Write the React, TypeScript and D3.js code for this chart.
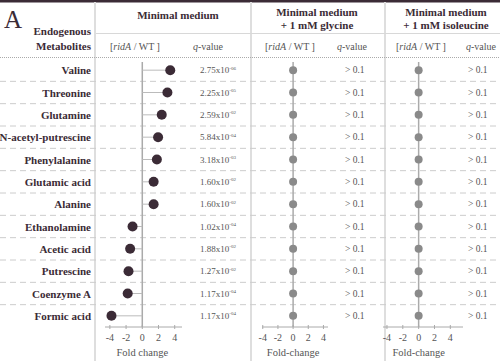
import React from "react";
import * as d3 from "d3";

const metabolites = [
  "Valine", "Threonine", "Glutamine", "N-acetyl-putrescine", "Phenylalanine",
  "Glutamic acid", "Alanine", "Ethanolamine", "Acetic acid", "Putrescine",
  "Coenzyme A", "Formic acid",
];
const foldMinimal = [3.45, 3.1, 2.4, 1.95, 1.8, 1.4, 1.4, -1.2, -1.5, -1.7, -1.8, -3.8];
const qMantissa = ["2.75", "2.25", "2.59", "5.84", "3.18", "1.60", "1.60", "1.02", "1.88", "1.27", "1.17", "1.17"];
const qExponent = ["-06", "-05", "-02", "-04", "-03", "-02", "-02", "-04", "-02", "-02", "-04", "-04"];
const foldGlycine = [0, 0, 0, 0, 0, 0, 0, 0, 0, 0, 0, 0];
const foldIsoleucine = [0, 0, 0, 0, 0, 0, 0, 0, 0, 0, 0, 0];
const qOther = ">\u00a00.1";
const ticks = [-4, -2, 0, 2, 4];

const FONT = "'Liberation Serif', 'Times New Roman', serif";
const DARK = "#3b2b36";
const GRAY_TXT = "#555";

export default function App() {
  const W = 500, H = 361;
  const y = d3.scaleBand<string>().domain(metabolites).range([59, 327]).paddingInner(0);
  const cy = (m: string) => (y(m) as number) + y.bandwidth() / 2;

  const panels = [
    { x: d3.scaleLinear().domain([-4.6, 4.9]).range([105, 182]), data: foldMinimal, dark: true, qx: 200, axisLabel: "Fold change" },
    { x: d3.scaleLinear().domain([-4.1, 4.6]).range([262, 328]), data: foldGlycine, dark: false, qx: 345, axisLabel: "Fold-change" },
    { x: d3.scaleLinear().domain([-4.5, 5.6]).range([383, 463]), data: foldIsoleucine, dark: false, qx: 468, axisLabel: "Fold-change" },
  ];
  const axisY = 327;

  const seps = metabolites.slice(1).map((m) => y(m) as number);

  return (
    <svg width={W} height={H} style={{ position: "absolute", left: 0, top: 0, background: "#fff" }} fontFamily={FONT}>
      <rect x={0} y={0} width={W} height={2.5} fill={DARK} />
      {[95, 251, 385].map((x) => (
        <rect key={x} x={x - 1} y={2} width={2} height={H - 2} fill="#dedede" />
      ))}
      <line x1={96} x2={W} y1={33.5} y2={33.5} stroke="#d8d8d8" strokeWidth={1} />
      <line x1={0} x2={W} y1={57.5} y2={57.5} stroke="#aaa" strokeWidth={1} strokeDasharray="1,1" />
      {seps.map((s, i) => (
        <line key={i} x1={0} x2={W} y1={s} y2={s} stroke="#ccc" strokeWidth={1} strokeDasharray="6,4" />
      ))}

      <text x={4} y={28} fontSize={25} fill={DARK}>A</text>
      <text x={91} y={35} fontSize={11} fontWeight="bold" fill={DARK} textAnchor="end">Endogenous</text>
      <text x={91} y={50} fontSize={11} fontWeight="bold" fill={DARK} textAnchor="end">Metabolites</text>

      <text x={178} y={19} fontSize={11} fontWeight="bold" fill={DARK} textAnchor="middle">Minimal medium</text>
      <text x={317} y={16} fontSize={11} fontWeight="bold" fill={DARK} textAnchor="middle">Minimal medium</text>
      <text x={317} y={29} fontSize={11} fontWeight="bold" fill={DARK} textAnchor="middle">+ 1 mM glycine</text>
      <text x={446} y={16} fontSize={11} fontWeight="bold" fill={DARK} textAnchor="middle">Minimal medium</text>
      <text x={446} y={29} fontSize={11} fontWeight="bold" fill={DARK} textAnchor="middle">+ 1 mM isoleucine</text>

      {[{ x: 110, q: 193 }, { x: 265, q: 337 }, { x: 396, q: 466 }].map((h, i) => (
        <g key={i} fontSize={10} fill={GRAY_TXT}>
          <text x={h.x} y={50}>[<tspan fontStyle="italic">ridA</tspan> / WT ]</text>
          <text x={h.q} y={50}><tspan fontStyle="italic">q</tspan>-value</text>
        </g>
      ))}

      {metabolites.map((m) => (
        <text key={m} x={91} y={cy(m) + 4} fontSize={11} fontWeight="bold" fill={DARK} textAnchor="end">{m}</text>
      ))}

      {panels.map((p, pi) => {
        const x0 = p.x(0);
        return (
          <g key={pi}>
            <line x1={x0} x2={x0} y1={62} y2={axisY} stroke="#aaa" strokeWidth={1.5} />
            <line x1={p.x.range()[0]} x2={p.x.range()[1]} y1={axisY} y2={axisY} stroke="#aaa" strokeWidth={1} />
            {ticks.map((t) => (
              <g key={t}>
                <line x1={p.x(t)} x2={p.x(t)} y1={axisY - 2} y2={axisY + 2} stroke="#aaa" />
                <text x={p.x(t)} y={axisY + 14} fontSize={10} fill={GRAY_TXT} textAnchor="middle">{t}</text>
              </g>
            ))}
            <text x={x0} y={axisY + 29} fontSize={10.5} fill={GRAY_TXT} textAnchor="middle">{p.axisLabel}</text>
            {metabolites.map((m, i) => {
              const v = p.data[i];
              const yy = cy(m);
              return (
                <g key={m}>
                  {p.dark && (
                    <line x1={x0} x2={p.x(v)} y1={yy} y2={yy} stroke="#bbb" strokeWidth={1} />
                  )}
                  <circle cx={p.x(v)} cy={yy} r={p.dark ? 5 : 4} fill={p.dark ? DARK : "#8a8a8a"} />
                  {p.dark ? (
                    <text x={p.qx} y={yy + 3} fontSize={9} fill={GRAY_TXT}>
                      {qMantissa[i]}x10<tspan fontSize={5} dy={-3.5}>{qExponent[i]}</tspan>
                    </text>
                  ) : (
                    <text x={p.qx} y={yy + 3} fontSize={9.5} fill={GRAY_TXT}>{qOther}</text>
                  )}
                </g>
              );
            })}
          </g>
        );
      })}
    </svg>
  );
}
